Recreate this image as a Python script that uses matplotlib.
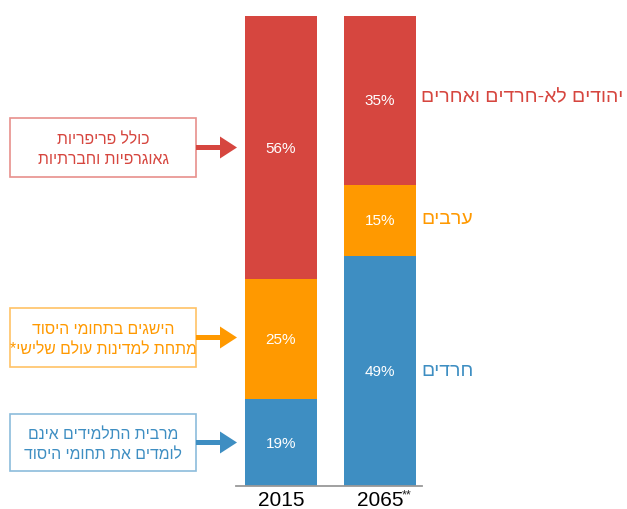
import matplotlib
matplotlib.use("Agg")
import matplotlib.pyplot as plt
from matplotlib.patches import Rectangle, FancyArrow
from matplotlib.transforms import IdentityTransform

# ---- data ----
years = ["2015", "2065"]
blue_vals = [18.5, 49.0]      # חרדים / most students don't learn core subjects
orange_vals = [25.5, 15.1]    # ערבים
red_vals = [56.0, 35.9]       # יהודים לא-חרדים ואחרים
blue_labels = ["19%", "49%"]
orange_labels = ["25%", "15%"]
red_labels = ["56%", "35%"]
right_labels = ["יהודים לא-חרדים ואחרים", "ערבים", "חרדים"]
box_texts = [
    ["כולל פריפריות", "גאוגרפיות וחברתיות"],
    ["הישגים בתחומי היסוד", "מתחת למדינות עולם שלישי*"],
    ["מרבית התלמידים אינם", "לומדים את תחומי היסוד"],
]

RED = "#D6463F"
ORANGE = "#FF9900"
BLUE = "#3E8EC2"
RED_EDGE = "#E8908C"
ORANGE_EDGE = "#FFC266"
BLUE_EDGE = "#8CBCDC"
FONT = ["Liberation Sans", "DejaVu Sans"]
plt.rcParams["font.family"] = FONT


def heb(s):
    return s[::-1]


W, H = 627, 510
fig = plt.figure(figsize=(W / 100, H / 100), dpi=100)


def fx(px):
    return px / W


def fy(py):
    return 1 - py / H


ax = fig.add_axes([fx(236), fy(487), fx(422) - fx(236), (487 - 17) / H])
x = [0, 1]
bw = 72 / 99
ax.bar(x, blue_vals, width=bw, color=BLUE)
ax.bar(x, orange_vals, width=bw, bottom=blue_vals, color=ORANGE)
bottoms_red = [b + o for b, o in zip(blue_vals, orange_vals)]
ax.bar(x, red_vals, width=bw, bottom=bottoms_red, color=RED)
ax.set_xlim(-45 / 99, 1 + 42 / 99)
ax.set_ylim(0, 100)

for i in range(2):
    ax.text(x[i], blue_vals[i] / 2, blue_labels[i], color="white", ha="center", va="center", fontsize=11)
    ax.text(x[i], blue_vals[i] + orange_vals[i] / 2, orange_labels[i], color="white", ha="center", va="center", fontsize=11)
    ax.text(x[i], bottoms_red[i] + red_vals[i] / 2, red_labels[i], color="white", ha="center", va="center", fontsize=11)

for s in ["top", "right", "left"]:
    ax.spines[s].set_visible(False)
ax.spines["bottom"].set_color("#999999")
ax.spines["bottom"].set_linewidth(1.3)
ax.set_yticks([])
ax.set_xticks(x)
ax.set_xticklabels(years, fontsize=15)
ax.tick_params(axis="x", length=0, pad=3)
fig.text(fx(402), fy(489), "**", fontsize=9, ha="left", va="top", color="#222222")

# right-side category labels
right_colors = [RED, ORANGE, BLUE]
right_y = [98, 220, 372]
for lab, c, yy in zip(right_labels, right_colors, right_y):
    fig.text(fx(421), fy(yy), heb(lab), color=c, fontsize=14, ha="left", va="center")

# left boxes with arrows
boxes = [(119, 178, RED, RED_EDGE), (309, 368, ORANGE, ORANGE_EDGE), (415, 472, BLUE, BLUE_EDGE)]
for (top, bot, c, ec), lines in zip(boxes, box_texts):
    rect = Rectangle((fx(10), fy(bot)), fx(196) - fx(10), (bot - top) / H,
                     transform=fig.transFigure, facecolor="white", edgecolor=ec, linewidth=1.2)
    fig.add_artist(rect)
    cy = (top + bot) / 2
    fig.text(fx(103), fy(cy - 9), heb(lines[0]), color=c, fontsize=11.3, ha="center", va="center")
    fig.text(fx(103), fy(cy + 11), heb(lines[1]), color=c, fontsize=11.3, ha="center", va="center")
    arr = FancyArrow(196, H - cy, 41, 0, width=5, head_width=22, head_length=17,
                     length_includes_head=True, transform=IdentityTransform(),
                     color=c, linewidth=0)
    fig.add_artist(arr)

fig.savefig("out.png", dpi=100)
